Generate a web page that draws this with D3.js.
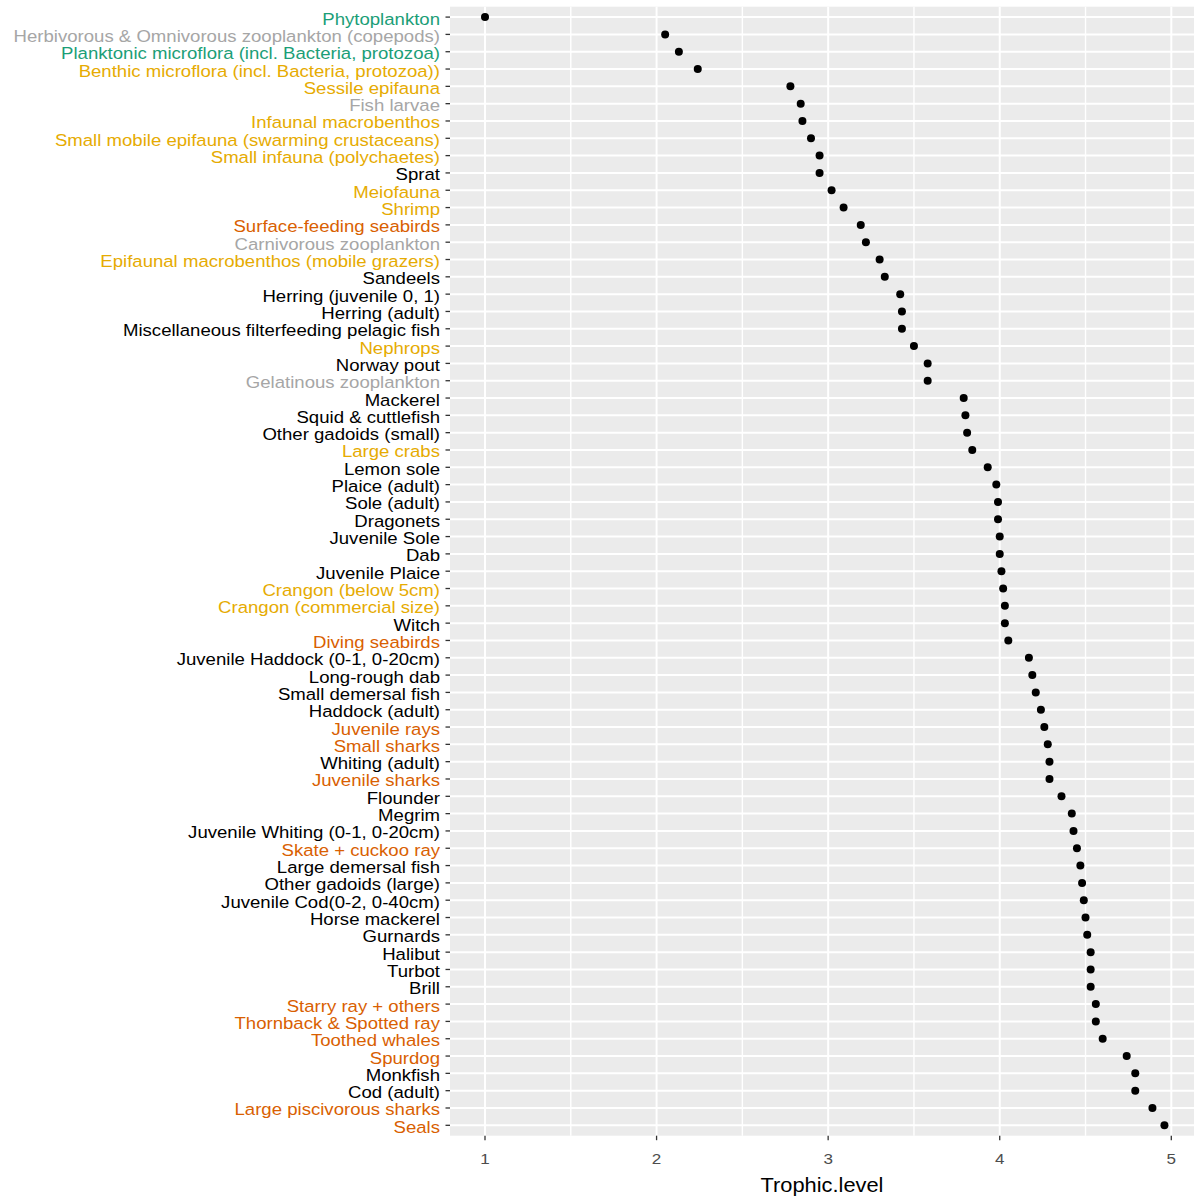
<!DOCTYPE html>
<html>
<head>
<meta charset="utf-8">
<script src="https://cdn.jsdelivr.net/npm/d3@7"></script>
<style>
  body { margin: 0; background: #fff; }
  svg { display: block; font-family: "Liberation Sans", Arial, sans-serif; }
</style>
</head>
<body>
<div id="chart"></div>
<script>
// functional groups, top to bottom
const groups = [
  "Phytoplankton",
  "Herbivorous & Omnivorous zooplankton (copepods)",
  "Planktonic microflora (incl. Bacteria, protozoa)",
  "Benthic microflora (incl. Bacteria, protozoa))",
  "Sessile epifauna",
  "Fish larvae",
  "Infaunal macrobenthos",
  "Small mobile epifauna (swarming crustaceans)",
  "Small infauna (polychaetes)",
  "Sprat",
  "Meiofauna",
  "Shrimp",
  "Surface-feeding seabirds",
  "Carnivorous zooplankton",
  "Epifaunal macrobenthos (mobile grazers)",
  "Sandeels",
  "Herring (juvenile 0, 1)",
  "Herring (adult)",
  "Miscellaneous filterfeeding pelagic fish",
  "Nephrops",
  "Norway pout",
  "Gelatinous zooplankton",
  "Mackerel",
  "Squid & cuttlefish",
  "Other gadoids (small)",
  "Large crabs",
  "Lemon sole",
  "Plaice (adult)",
  "Sole (adult)",
  "Dragonets",
  "Juvenile Sole",
  "Dab",
  "Juvenile Plaice",
  "Crangon (below 5cm)",
  "Crangon (commercial size)",
  "Witch",
  "Diving seabirds",
  "Juvenile Haddock (0-1, 0-20cm)",
  "Long-rough dab",
  "Small demersal fish",
  "Haddock (adult)",
  "Juvenile rays",
  "Small sharks",
  "Whiting (adult)",
  "Juvenile sharks",
  "Flounder",
  "Megrim",
  "Juvenile Whiting (0-1, 0-20cm)",
  "Skate + cuckoo ray",
  "Large demersal fish",
  "Other gadoids (large)",
  "Juvenile Cod(0-2, 0-40cm)",
  "Horse mackerel",
  "Gurnards",
  "Halibut",
  "Turbot",
  "Brill",
  "Starry ray + others",
  "Thornback & Spotted ray",
  "Toothed whales",
  "Spurdog",
  "Monkfish",
  "Cod (adult)",
  "Large piscivorous sharks",
  "Seals"
];

const trophicLevels = [
  1.00, 2.05, 2.13, 2.24, 2.78, 2.84, 2.85, 2.90, 2.95, 2.95,
  3.02, 3.09, 3.19, 3.22, 3.30, 3.33, 3.42, 3.43, 3.43, 3.50,
  3.58, 3.58, 3.79, 3.80, 3.81, 3.84, 3.93, 3.98, 3.99, 3.99,
  4.00, 4.00, 4.01, 4.02, 4.03, 4.03, 4.05, 4.17, 4.19, 4.21,
  4.24, 4.26, 4.28, 4.29, 4.29, 4.36, 4.42, 4.43, 4.45, 4.47,
  4.48, 4.49, 4.50, 4.51, 4.53, 4.53, 4.53, 4.56, 4.56, 4.60,
  4.74, 4.79, 4.79, 4.89, 4.96
];

// label colour class per group
const guilds = [
  "primary", "zoo", "primary", "benthos", "benthos", "zoo", "benthos", "benthos", "benthos", "fish",
  "benthos", "benthos", "top", "zoo", "benthos", "fish", "fish", "fish", "fish", "benthos",
  "fish", "zoo", "fish", "fish", "fish", "benthos", "fish", "fish", "fish", "fish",
  "fish", "fish", "fish", "benthos", "benthos", "fish", "top", "fish", "fish", "fish",
  "fish", "top", "top", "fish", "top", "fish", "fish", "fish", "top", "fish",
  "fish", "fish", "fish", "fish", "fish", "fish", "fish", "top", "top", "top",
  "top", "fish", "fish", "top", "top"
];

const guildColors = {
  primary: "#1B9E77",
  zoo: "#A6A6A6",
  benthos: "#E6AB02",
  top: "#D95F02",
  fish: "#000000"
};

const xTicks = [1, 2, 3, 4, 5];
const xMinor = [1.5, 2.5, 3.5, 4.5];

const width = 1194;
const height = 1196;
const panel = { left: 450, right: 1194, top: 6.7, bottom: 1135.7 };

const svg = d3.select("#chart")
  .append("svg")
  .attr("width", width)
  .attr("height", height);

const x = d3.scaleLinear()
  .domain([1, 5])
  .range([485, 1171.3]);

const y = d3.scalePoint()
  .domain(groups)
  .range([panel.top, panel.bottom])
  .padding(0.6);

const data = groups.map((g, i) => ({ group: g, tl: trophicLevels[i], guild: guilds[i] }));

// panel background
svg.append("rect")
  .attr("x", panel.left)
  .attr("y", panel.top)
  .attr("width", panel.right - panel.left)
  .attr("height", panel.bottom - panel.top)
  .attr("fill", "#EBEBEB");

// minor grid
svg.selectAll(".minor")
  .data(xMinor)
  .enter()
  .append("line")
  .attr("x1", d => x(d)).attr("x2", d => x(d))
  .attr("y1", panel.top).attr("y2", panel.bottom)
  .attr("stroke", "#fff")
  .attr("stroke-width", 1.4);

// major grid
svg.selectAll(".vgrid")
  .data(xTicks)
  .enter()
  .append("line")
  .attr("x1", d => x(d)).attr("x2", d => x(d))
  .attr("y1", panel.top).attr("y2", panel.bottom)
  .attr("stroke", "#fff")
  .attr("stroke-width", 2);

svg.selectAll(".hgrid")
  .data(groups)
  .enter()
  .append("line")
  .attr("x1", panel.left).attr("x2", panel.right)
  .attr("y1", d => y(d)).attr("y2", d => y(d))
  .attr("stroke", "#fff")
  .attr("stroke-width", 2);

// points
svg.selectAll(".dot")
  .data(data)
  .enter()
  .append("circle")
  .attr("cx", d => x(d.tl))
  .attr("cy", d => y(d.group))
  .attr("r", 4)
  .attr("fill", "#000");

// y axis ticks + labels
const yAxis = svg.append("g");
yAxis.selectAll("line")
  .data(groups)
  .enter()
  .append("line")
  .attr("x1", panel.left - 4.5).attr("x2", panel.left)
  .attr("y1", d => y(d)).attr("y2", d => y(d))
  .attr("stroke", "#333")
  .attr("stroke-width", 1.3);

yAxis.selectAll("text")
  .data(data)
  .enter()
  .append("text")
  .attr("transform", d => `translate(${panel.left - 10},${y(d.group) + 7.5}) scale(1.12,1)`)
  .attr("text-anchor", "end")
  .attr("font-size", 16.6)
  .attr("fill", d => guildColors[d.guild])
  .text(d => d.group);

// x axis ticks + labels
const xAxis = svg.append("g");
xAxis.selectAll("line")
  .data(xTicks)
  .enter()
  .append("line")
  .attr("x1", d => x(d)).attr("x2", d => x(d))
  .attr("y1", panel.bottom).attr("y2", panel.bottom + 4.5)
  .attr("stroke", "#333")
  .attr("stroke-width", 1.3);

xAxis.selectAll("text")
  .data(xTicks)
  .enter()
  .append("text")
  .attr("transform", d => `translate(${x(d)},${1164}) scale(1.1,1)`)
  .attr("text-anchor", "middle")
  .attr("font-size", 15.5)
  .attr("fill", "#4D4D4D")
  .text(d => d);

svg.append("text")
  .attr("transform", `translate(${(panel.left + panel.right) / 2},${1192}) scale(1.12,1)`)
  .attr("text-anchor", "middle")
  .attr("font-size", 19.5)
  .attr("fill", "#000")
  .text("Trophic.level");
</script>
</body>
</html>
